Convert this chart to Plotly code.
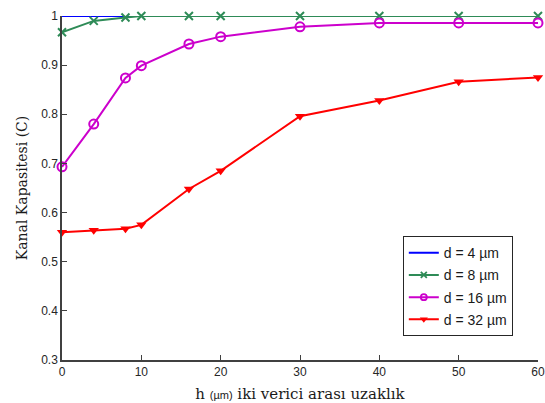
import plotly.graph_objects as go

# distance between the two transmitters, h (um)
h = [0, 4, 8, 10, 16, 20, 30, 40, 50, 60]

# channel capacity for each transmitter diameter d
cap_d4 = [1, 1, 1, 1, 1, 1, 1, 1, 1, 1]
cap_d8 = [0.967, 0.990, 0.997, 1, 1, 1, 1, 1, 1, 1]
cap_d16 = [0.693, 0.780, 0.874, 0.899, 0.943, 0.958, 0.978, 0.986, 0.986, 0.986]
cap_d32 = [0.560, 0.564, 0.567, 0.575, 0.648, 0.685, 0.796, 0.828, 0.866, 0.875]

series_names = ["d = 4 µm", "d = 8 µm", "d = 16 µm", "d = 32 µm"]
x_ticks = [0, 10, 20, 30, 40, 50, 60]
y_ticks = [0.3, 0.4, 0.5, 0.6, 0.7, 0.8, 0.9, 1.0]
y_tick_text = ["0.3", "0.4", "0.5", "0.6", "0.7", "0.8", "0.9", "1"]

# (values, line colour, marker symbol or None, marker size in plot, marker size in legend)
styles = [
    (cap_d4, "#0000ff", None, 0, 0),
    (cap_d8, "#2e8b57", "x-thin", 8, 6),
    (cap_d16, "#cc00cc", "circle-open", 9, 6),
    (cap_d32, "#ff0000", "triangle-down", 9, 7),
]

fig = go.Figure()
for name, (vals, color, symbol, msize, lsize) in zip(series_names, styles):
    mode = "lines" if symbol is None else "lines+markers"
    if symbol is None:
        mk, lmk = None, None
    elif symbol == "triangle-down":
        mk = dict(symbol=symbol, size=msize, color=color)
        lmk = dict(symbol=symbol, size=lsize, color=color)
    else:
        mk = dict(symbol=symbol, size=msize, color=color, line=dict(color=color, width=2))
        lmk = dict(symbol=symbol, size=lsize, color=color, line=dict(color=color, width=1.8))
    # data curve
    fig.add_trace(go.Scatter(
        x=h, y=vals, name=name, mode=mode, showlegend=False, legendgroup=name,
        line=dict(color=color, width=2), marker=mk, cliponaxis=False))
    # legend entry with a smaller symbol
    fig.add_trace(go.Scatter(
        x=[None], y=[None], name=name, mode=mode, legendgroup=name,
        line=dict(color=color, width=2), marker=lmk))

axis_font = dict(family="Liberation Sans, Arial, sans-serif", size=12, color="#262626")

fig.update_layout(
    width=545, height=403,
    margin=dict(l=62, r=7, t=16, b=43),
    paper_bgcolor="white", plot_bgcolor="white",
    showlegend=True,
    legend=dict(
        x=0.716, y=0.36, xanchor="left", yanchor="top",
        bgcolor="white", bordercolor="#262626", borderwidth=1,
        font=dict(family="Liberation Sans, Arial, sans-serif", size=14, color="#1a1a1a"),
        tracegroupgap=1, itemwidth=30,
    ),
    xaxis=dict(
        range=[0, 60], tickvals=x_ticks, showgrid=False, zeroline=False,
        showline=True, linecolor="#404040", linewidth=1.5,
        ticks="inside", ticklen=5, tickcolor="#404040",
        tickfont=axis_font, automargin=False,
        title=dict(
            text="h <span style='font-family:Liberation Sans, Arial, sans-serif;font-size:11px'>(µm)</span> iki verici arası uzaklık",
            font=dict(family="DejaVu Serif, serif", size=15, color="#1a1a1a"),
            standoff=11),
    ),
    yaxis=dict(
        range=[0.3, 1.0], tickvals=y_ticks, ticktext=y_tick_text,
        showgrid=False, zeroline=False,
        showline=True, linecolor="#404040", linewidth=1.5,
        ticks="inside", ticklen=5, tickcolor="#404040",
        tickfont=axis_font, automargin=False,
        title=dict(text="Kanal Kapasitesi (C)",
                   font=dict(family="DejaVu Serif, serif", size=14, color="#1a1a1a"),
                   standoff=10),
    ),
)

fig.write_html("out.html")
